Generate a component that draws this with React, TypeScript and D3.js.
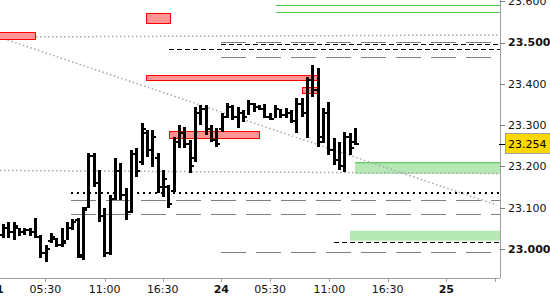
import React from 'react';
import * as d3 from 'd3';

const W = 550;
const H = 300;

// 30-minute OHLC bars, indexed from the first visible bar
const opens = [23.035, 23.05, 23.04, 23.05, 23.04, 23.045, 23.04, 23.03, 22.99, 23.02, 23.025, 23.01, 23.02, 23.05, 23.07, 22.98,
  23.1, 23.225, 23.16, 23.08, 22.99, 23.12, 23.19, 23.13, 23.09, 23.23, 23.21, 23.28, 23.24, 23.22, 23.15, 23.15,
  23.14, 23.26, 23.28, 23.255, 23.22, 23.33, 23.34, 23.29, 23.265, 23.29, 23.32, 23.345, 23.32, 23.33, 23.32, 23.35,
  23.345, 23.34, 23.32, 23.315, 23.34, 23.325, 23.33, 23.31, 23.35, 23.33, 23.41, 23.385, 23.27, 23.33, 23.24, 23.215,
  23.2, 23.27, 23.26];
const highs = [23.061, 23.065, 23.065, 23.051, 23.051, 23.051, 23.075, 23.034, 23.01, 23.039, 23.027, 23.051, 23.065, 23.073, 23.075, 23.102,
  23.232, 23.232, 23.191, 23.099, 23.131, 23.22, 23.208, 23.148, 23.24, 23.245, 23.305, 23.288, 23.288, 23.232, 23.191, 23.155,
  23.271, 23.3, 23.295, 23.264, 23.344, 23.349, 23.349, 23.3, 23.293, 23.329, 23.354, 23.349, 23.344, 23.337, 23.361, 23.354,
  23.349, 23.351, 23.329, 23.349, 23.339, 23.341, 23.337, 23.366, 23.366, 23.4165, 23.4455, 23.438, 23.341, 23.356, 23.269, 23.259,
  23.283, 23.281, 23.293];
const lows = [23.027, 23.027, 23.022, 23.031, 23.034, 23.031, 23.027, 22.978, 22.969, 23.015, 23.005, 23.005, 23.022, 23.046, 22.978, 22.973,
  23.099, 23.15, 23.065, 22.981, 22.985, 23.119, 23.119, 23.07, 23.087, 23.174, 23.203, 23.223, 23.199, 23.136, 23.126, 23.099,
  23.138, 23.245, 23.245, 23.184, 23.211, 23.3, 23.276, 23.259, 23.247, 23.283, 23.317, 23.312, 23.293, 23.308, 23.324, 23.332,
  23.337, 23.317, 23.312, 23.317, 23.317, 23.317, 23.305, 23.281, 23.32, 23.269, 23.368, 23.247, 23.257, 23.228, 23.203, 23.191,
  23.186, 23.228, 23.252];
const closes = [23.05, 23.04, 23.055, 23.04, 23.045, 23.04, 23.03, 22.99, 23.0, 23.03, 23.01, 23.015, 23.05, 23.065, 22.985, 23.095,
  23.225, 23.16, 23.08, 22.99, 23.12, 23.19, 23.13, 23.09, 23.23, 23.19, 23.29, 23.24, 23.27, 23.15, 23.17, 23.11,
  23.26, 23.28, 23.255, 23.2, 23.33, 23.34, 23.29, 23.265, 23.255, 23.32, 23.345, 23.32, 23.33, 23.32, 23.35, 23.345,
  23.34, 23.32, 23.315, 23.34, 23.325, 23.33, 23.31, 23.35, 23.33, 23.41, 23.385, 23.26, 23.33, 23.24, 23.215, 23.2,
  23.27, 23.245, 23.254];

const lastPrice = 23.254;

// Axis ticks
const yTickValues = [23.0, 23.1, 23.2, 23.3, 23.4, 23.5, 23.6];
const yTickBold = [true, false, false, false, false, true, false];
const xTickPositions = [-1.31, 7.93, 19.07, 29.95, 40.93, 50.07, 61.18, 72.13, 83.12, 92.25];
const xTickLabels = ['21', '05:30', '11:00', '16:30', '24', '05:30', '11:00', '16:30', '25', ''];
const xTickBold = [true, false, false, false, true, false, false, false, true, false];

// Supply zones (red) : start bar, end bar, top price, bottom price
const redFrom = [-3, 26.81, 26.81, 31.13, 56.12];
const redTo = [6.0, 31.26, 59.0, 48.0, 59.0];
const redTop = [23.5254, 23.5707, 23.4213, 23.2857, 23.3923];
const redBottom = [23.5092, 23.5455, 23.4092, 23.2688, 23.3777];

// Demand zones (green), extending to the right edge
const greenFrom = [66.0, 65.07];
const greenTop = [23.2099, 23.0443];
const greenBottom = [23.1816, 23.0201];
const greenEdge = [true, false];

// Green level lines
const greenLineFrom = [51.19, 51.19];
const greenLineLevel = [23.5908, 23.5731];

// Gray dotted trendlines: [startBar, startPrice, endBar, endPrice]
const trendFromBar = [-0.5625, -0.5625, -0.5625];
const trendFromPrice = [23.5133, 23.5121, 23.1901];
const trendToBar = [93.19, 92.63, 93.19];
const trendToPrice = [23.5182, 23.1065, 23.1828];

// Black dotted level
const blackDotFrom = [12.75];
const blackDotLevel = [23.1363];

// Black short dashed levels
const blackDashFrom = [40.88, 31.13, 62.07];
const blackDashLevel = [23.4956, 23.4843, 23.0162];

// Gray long dashed levels
const grayDashFrom = [40.88, 40.88, 12.75, 12.75, 40.88];
const grayDashLevel = [23.5005, 23.4642, 23.1186, 23.0847, 22.992];

const PLOT_RIGHT = 500;
const PLOT_BOTTOM = 278;

export default function App() {
  const x = d3.scaleLinear().domain([0, opens.length - 1]).range([3, 355]);
  const y = d3.scaleLinear().domain([23.0, 23.5]).range([249, 42.5]);
  const xEnd = x.invert(PLOT_RIGHT);
  const font = "'DejaVu Sans', Verdana, sans-serif";

  return (
    <svg width={W} height={H} style={{ position: 'fixed', left: 0, top: 0, background: '#fff' }}>
      <defs>
        <clipPath id="plot">
          <rect x={0} y={0} width={PLOT_RIGHT} height={PLOT_BOTTOM} />
        </clipPath>
      </defs>
      <rect x={0} y={0} width={W} height={H} fill="#fff" />
      <g clipPath="url(#plot)">
        {greenFrom.map((f, i) => (
          <g key={'gz' + i}>
            <rect x={x(f)} y={y(greenTop[i])} width={x(xEnd) - x(f)} height={y(greenBottom[i]) - y(greenTop[i])} fill="#b5e8b5" />
            {greenEdge[i] && (
              <line x1={x(f)} x2={x(xEnd)} y1={y(greenTop[i]) + 0.5} y2={y(greenTop[i]) + 0.5} stroke="#44c444" strokeWidth={1} />
            )}
          </g>
        ))}
        {greenLineFrom.map((f, i) => (
          <line key={'gl' + i} x1={x(f)} x2={x(xEnd)} y1={Math.round(y(greenLineLevel[i])) + 0.5} y2={Math.round(y(greenLineLevel[i])) + 0.5} stroke="#4cc84c" strokeWidth={1} />
        ))}
        {grayDashFrom.map((f, i) => (
          <line key={'gd' + i} x1={x(f)} x2={x(xEnd)} y1={Math.round(y(grayDashLevel[i])) + 0.5} y2={Math.round(y(grayDashLevel[i])) + 0.5} stroke="#808080" strokeWidth={1} strokeDasharray="25 10" />
        ))}
        {blackDashFrom.map((f, i) => (
          <line key={'bd' + i} x1={x(f)} x2={x(xEnd)} y1={Math.round(y(blackDashLevel[i])) + 0.5} y2={Math.round(y(blackDashLevel[i])) + 0.5} stroke="#000" strokeWidth={1} strokeDasharray="5 3" />
        ))}
        {blackDotFrom.map((f, i) => (
          <line key={'bk' + i} x1={x(f)} x2={x(xEnd)} y1={Math.round(y(blackDotLevel[i]))} y2={Math.round(y(blackDotLevel[i]))} stroke="#000" strokeWidth={2} strokeDasharray="2 4" />
        ))}
        {trendFromBar.map((f, i) => (
          <line key={'tl' + i} x1={x(f)} x2={x(trendToBar[i])} y1={y(trendFromPrice[i])} y2={y(trendToPrice[i])} stroke="#a8a8a8" strokeWidth={1.5} strokeDasharray="1.5 2.5" />
        ))}
        {redFrom.map((f, i) => (
          <rect key={'rz' + i} x={Math.round(x(f)) + 0.5} y={Math.round(y(redTop[i])) + 0.5} width={Math.round(x(redTo[i]) - x(f))} height={Math.round(y(redBottom[i]) - y(redTop[i]))} fill="#ff9494" stroke="#ff0000" strokeWidth={1} />
        ))}
        {opens.map((o, i) => {
          const cx = Math.round(x(i));
          const yh = Math.round(y(highs[i]));
          const yl = Math.round(y(lows[i]));
          return (
            <g key={'b' + i} fill="#000">
              <rect x={cx - 1} y={yh} width={3} height={Math.max(1, yl - yh)} />
              <rect x={cx - 3} y={Math.round(y(o)) - 1} width={2} height={2} />
              <rect x={cx + 2} y={Math.round(y(closes[i])) - 1} width={2} height={2} />
            </g>
          );
        })}
      </g>
      <line x1={PLOT_RIGHT + 0.5} x2={PLOT_RIGHT + 0.5} y1={0} y2={PLOT_BOTTOM} stroke="#a0a0a0" />
      <line x1={0} x2={PLOT_RIGHT} y1={PLOT_BOTTOM + 0.5} y2={PLOT_BOTTOM + 0.5} stroke="#a0a0a0" />
      {yTickValues.map((v, i) => (
        <g key={'yt' + i}>
          <line x1={PLOT_RIGHT} x2={PLOT_RIGHT + 5} y1={Math.round(y(v)) + 0.5} y2={Math.round(y(v)) + 0.5} stroke="#808080" />
          <text x={508} y={y(v)} dy="0.36em" fontFamily={font} fontSize={11} fontWeight={yTickBold[i] ? 'bold' : 'normal'} fill="#111">
            {v.toFixed(3)}
          </text>
        </g>
      ))}
      {xTickPositions.map((p, i) => (
        <g key={'xt' + i}>
          <line x1={Math.round(x(p)) + 0.5} x2={Math.round(x(p)) + 0.5} y1={PLOT_BOTTOM} y2={PLOT_BOTTOM + 4} stroke="#a0a0a0" />
          <text x={x(p)} y={293} textAnchor="middle" fontFamily={font} fontSize={11} fontWeight={xTickBold[i] ? 'bold' : 'normal'} fill="#111">
            {xTickLabels[i]}
          </text>
        </g>
      ))}
      <line x1={PLOT_RIGHT - 1} x2={PLOT_RIGHT + 5} y1={Math.round(y(lastPrice)) + 0.5} y2={Math.round(y(lastPrice)) + 0.5} stroke="#000" />
      <rect x={505.5} y={Math.round(y(lastPrice)) - 10.5} width={50} height={20} fill="#ffd700" stroke="#a0a0a0" />
      <text x={508} y={y(lastPrice)} dy="0.36em" fontFamily={font} fontSize={11} fill="#000">
        {lastPrice.toFixed(3)}
      </text>
    </svg>
  );
}
